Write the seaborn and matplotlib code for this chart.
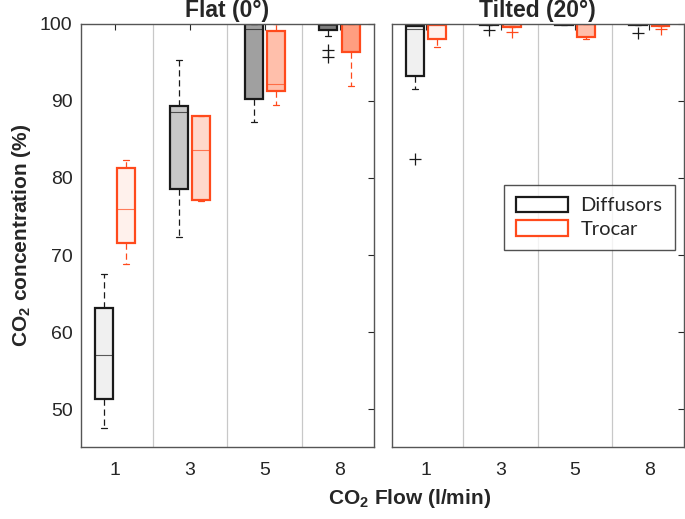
import matplotlib
matplotlib.use("Agg")
import matplotlib.pyplot as plt
import seaborn as sns
from matplotlib.patches import Patch

flows = ['1', '3', '5', '8']
groups = ['Diffusors', 'Trocar']
panels = ['Flat (0°)', 'Tilted (20°)']

# box statistics: [flow1, flow3, flow5, flow8]
flat_diff_min = [47.5, 72.3, 87.2, 98.4]
flat_diff_q1 = [51.3, 78.6, 90.3, 99.2]
flat_diff_med = [57.0, 88.6, 99.3, 99.9]
flat_diff_q3 = [63.1, 89.4, 100.0, 100.0]
flat_diff_max = [67.5, 95.3, 100.0, 100.0]
flat_diff_out = [[], [], [], [96.6, 95.7]]

flat_troc_min = [68.8, 77.0, 89.5, 92.0]
flat_troc_q1 = [71.5, 77.1, 91.3, 96.4]
flat_troc_med = [76.0, 83.6, 92.2, 100.0]
flat_troc_q3 = [81.3, 88.0, 99.1, 100.0]
flat_troc_max = [82.3, 88.1, 100.0, 100.0]
flat_troc_out = [[], [], [], []]

tilt_diff_min = [91.6, 99.8, 99.9, 99.8]
tilt_diff_q1 = [93.2, 99.8, 99.9, 99.8]
tilt_diff_med = [99.3, 100.0, 100.0, 100.0]
tilt_diff_q3 = [99.7, 100.0, 100.0, 100.0]
tilt_diff_max = [99.8, 100.0, 100.0, 100.0]
tilt_diff_out = [[82.4], [99.2], [], [98.8]]

tilt_troc_min = [97.0, 99.6, 98.1, 99.7]
tilt_troc_q1 = [98.1, 99.6, 98.3, 99.7]
tilt_troc_med = [99.8, 100.0, 100.0, 100.0]
tilt_troc_q3 = [99.9, 100.0, 100.0, 100.0]
tilt_troc_max = [100.0, 100.0, 100.0, 100.0]
tilt_troc_out = [[], [99.0], [], [99.3]]

diff_fill = ['#f0f0f0', '#c8c8c8', '#a0a0a0', '#7f7f7f']
troc_fill = ['#fff1ec', '#ffd8cb', '#ffbfab', '#ff9e80']
diff_edge = '#1a1a1a'
troc_edge = '#ff4a1c'

sns.set_style("white")
plt.rcParams['font.family'] = ['Liberation Sans', 'DejaVu Sans']
plt.rcParams['mathtext.fontset'] = 'custom'
plt.rcParams['mathtext.bf'] = 'Liberation Sans:bold'
plt.rcParams['mathtext.rm'] = 'Liberation Sans'


def stats(mins, q1s, meds, q3s, maxs, outs):
    return [dict(whislo=a, q1=b, med=c, q3=d, whishi=e, fliers=f)
            for a, b, c, d, e, f in zip(mins, q1s, meds, q3s, maxs, outs)]


data = {
    panels[0]: (stats(flat_diff_min, flat_diff_q1, flat_diff_med, flat_diff_q3, flat_diff_max, flat_diff_out),
                stats(flat_troc_min, flat_troc_q1, flat_troc_med, flat_troc_q3, flat_troc_max, flat_troc_out)),
    panels[1]: (stats(tilt_diff_min, tilt_diff_q1, tilt_diff_med, tilt_diff_q3, tilt_diff_max, tilt_diff_out),
                stats(tilt_troc_min, tilt_troc_q1, tilt_troc_med, tilt_troc_q3, tilt_troc_max, tilt_troc_out)),
}

fig = plt.figure(figsize=(6.85, 5.19), dpi=100)
ax1 = fig.add_axes([0.118, 0.139, 0.428, 0.815])
ax2 = fig.add_axes([0.572, 0.139, 0.426, 0.815])

pos = list(range(1, len(flows) + 1))
for ax, panel in zip([ax1, ax2], panels):
    for off, st, fills, edge in [(-0.15, data[panel][0], diff_fill, diff_edge),
                                 (0.15, data[panel][1], troc_fill, troc_edge)]:
        bp = ax.bxp(st, positions=[p + off for p in pos], widths=0.24,
                    patch_artist=True, showfliers=True,
                    boxprops=dict(linewidth=1.6, edgecolor=edge),
                    medianprops=dict(color=edge, linewidth=0.8, alpha=0.7),
                    whiskerprops=dict(color=edge, linewidth=0.9, linestyle=(0, (5, 3))),
                    capprops=dict(color=edge, linewidth=0.9),
                    capwidths=0.08,
                    flierprops=dict(marker='+', markeredgecolor=edge, markersize=9,
                                    markeredgewidth=0.9, linestyle='none'))
        for patch, fc in zip(bp['boxes'], fills):
            patch.set_facecolor(fc)
    for x in [1.5, 2.5, 3.5]:
        ax.axvline(x, color='#c8c8c8', linewidth=0.9, zorder=0)
    ax.set_xlim(0.54, 4.46)
    ax.set_ylim(45.1, 100)
    ax.set_xticks(pos)
    ax.set_xticklabels(flows)
    ax.set_yticks([50, 60, 70, 80, 90, 100])
    ax.set_title(panel, fontsize=16.5, fontweight='bold', pad=5)
    ax.tick_params(direction='in', length=4, top=True, right=True, labelsize=14,
                   colors='#262626', pad=11)
    ax.tick_params(axis='y', pad=6)
    for s in ax.spines.values():
        s.set_color('#555555')
        s.set_linewidth(1.0)

ax2.set_yticklabels([])
ax1.set_ylabel(r'CO$_\mathbf{2}$ concentration (%)', fontsize=15, fontweight='bold',
               labelpad=5)
fig.text(0.598, 0.04, r'CO$_\mathbf{2}$ Flow (l/min)', fontsize=15, fontweight='bold',
         ha='center', va='center')

handles = [Patch(facecolor='white', edgecolor=diff_edge, linewidth=1.6, label=groups[0]),
           Patch(facecolor='white', edgecolor=troc_edge, linewidth=1.6, label=groups[1])]
leg = ax2.legend(handles=handles, loc='upper right', bbox_to_anchor=(0.969, 0.62),
                 prop=dict(family=['Lato', 'DejaVu Sans'], size=14.5),
                 frameon=True, fancybox=False, edgecolor='#262626',
                 handlelength=2.6, handleheight=0.8, borderpad=0.6, labelspacing=0.3,
                 handletextpad=0.6, borderaxespad=0)
leg.get_frame().set_linewidth(1.0)

fig.savefig('out.png', dpi=100)
